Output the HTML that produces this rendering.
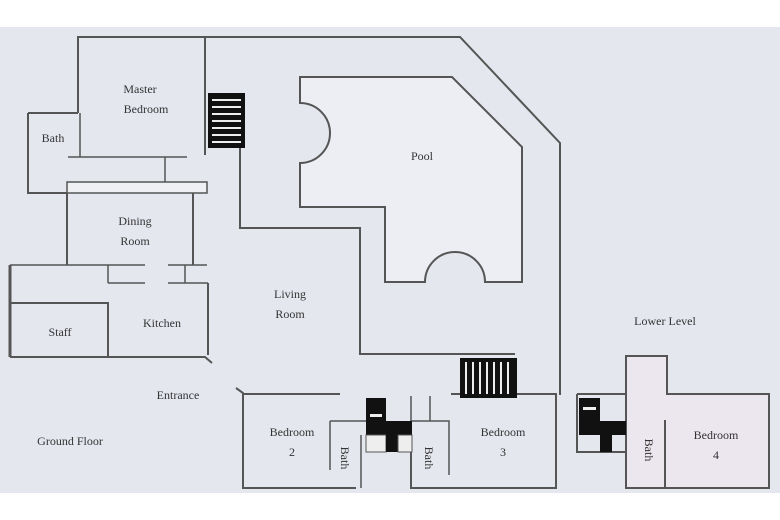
<!DOCTYPE html>
<html><head><meta charset="utf-8"><style>
html,body{margin:0;padding:0;background:#fff}
svg{display:block}
text{font-family:"Liberation Serif",serif;fill:#333;font-size:12px}
</style></head><body>
<svg width="780" height="520" viewBox="0 0 780 520" xmlns="http://www.w3.org/2000/svg">
<rect x="0" y="0" width="780" height="520" fill="#fff"/>
<rect x="0" y="27" width="780" height="466" fill="#e5e7ef"/>
<!-- pool -->
<path d="M300,77 H452 L522,147 V282 H485 A30,30 0 0 0 425,282 H385 V207 H300 V163 A30,30 0 0 0 300,103 Z" fill="#eceef3" stroke="#555" stroke-width="2"/>
<g fill="none" stroke="#555" stroke-width="2">
<!-- outer -->
<path d="M78,113 V37 H460 L560,143 V395"/>
<path d="M205,37 V155"/>
<path d="M28,113 H78 M28,113 V193 H67"/>
<path d="M80,113 V157 M68,157 H187 M165,157 V182" stroke-width="1.5"/>
<rect x="67" y="182" width="140" height="11" fill="#eef0f4" stroke-width="1.5"/>
<path d="M67,193 V265 M193,193 V265"/>
<path d="M240,148 V228 H360 V354 H515"/>
<!-- kitchen -->
<path d="M10,265 H145 M168,265 H207 M108,283 H145 M168,283 H208 M108,265 V283 M185,265 V283" stroke-width="1.5"/>
<path d="M10,265 V357" stroke-width="3"/>
<path d="M208,283 V355 M10,357 H205 L212,363 M10,303 H108 V357"/>
<!-- bedroom 2 -->
<path d="M236,388 L243,393 V488 H356 M243,394 H340"/>
<path d="M330,421 V470 M330,421 H366 M361,435 V488" stroke-width="1.5"/>
<!-- bedroom 3 -->
<path d="M411,452 V488 H556 V394 H451"/>
<path d="M411,396 V421 H449 V475 M430,396 V421" stroke-width="1.5"/>
<!-- bedroom 4 -->
<path d="M626,394 V356 H667 V394 H769 V488 H626 V452 M577,394 H626 M577,394 V452 H626 M665,420 V488"/>
</g>
<rect x="627" y="395" width="141" height="92" fill="#ece6ee"/>
<rect x="627" y="357" width="39" height="38" fill="#ece6ee"/>
<path d="M626,394 V356 H667 V394 H769 V488 H626 Z M665,420 V488" fill="none" stroke="#555" stroke-width="2"/>
<!-- stairs top -->
<rect x="208" y="93" width="37" height="55" fill="#111"/>
<g stroke="#eee" stroke-width="2"><path d="M212,100 H241 M212,107 H241 M212,114 H241 M212,121 H241 M212,128 H241 M212,135 H241 M212,142 H241"/></g>
<!-- stairs bottom -->
<rect x="460" y="358" width="57" height="40" fill="#111"/>
<g stroke="#eee" stroke-width="2"><path d="M466,362 V394 M473,362 V394 M480,362 V394 M487,362 V394 M494,362 V394 M501,362 V394 M508,362 V394"/></g>
<!-- black blocks bedroom2/3 -->
<rect x="366" y="398" width="20" height="37" fill="#111"/>
<rect x="370" y="414" width="12" height="3" fill="#eee"/>
<rect x="366" y="435" width="20" height="17" fill="#eee" stroke="#555"/>
<rect x="386" y="421" width="12" height="31" fill="#111"/>
<rect x="398" y="421" width="14" height="14" fill="#111"/>
<rect x="398" y="435" width="14" height="17" fill="#eee" stroke="#555"/>
<!-- black blocks bedroom4 -->
<rect x="579" y="398" width="21" height="37" fill="#111"/>
<rect x="583" y="407" width="13" height="3" fill="#eee"/>
<rect x="600" y="421" width="12" height="31" fill="#111"/>
<rect x="612" y="421" width="14" height="14" fill="#111"/>
<!-- labels -->
<text x="140" y="93" text-anchor="middle">Master</text>
<text x="146" y="113" text-anchor="middle">Bedroom</text>
<text x="53" y="142" text-anchor="middle" font-size="11">Bath</text>
<text x="135" y="225" text-anchor="middle">Dining</text>
<text x="135" y="245" text-anchor="middle">Room</text>
<text x="290" y="298" text-anchor="middle">Living</text>
<text x="290" y="318" text-anchor="middle">Room</text>
<text x="422" y="160" text-anchor="middle" font-size="11">Pool</text>
<text x="60" y="336" text-anchor="middle" font-size="11">Staff</text>
<text x="162" y="327" text-anchor="middle">Kitchen</text>
<text x="178" y="399" text-anchor="middle">Entrance</text>
<text x="70" y="445" text-anchor="middle">Ground Floor</text>
<text x="665" y="325" text-anchor="middle">Lower Level</text>
<text x="292" y="436" text-anchor="middle">Bedroom</text>
<text x="292" y="456" text-anchor="middle">2</text>
<text x="503" y="436" text-anchor="middle">Bedroom</text>
<text x="503" y="456" text-anchor="middle">3</text>
<text x="716" y="439" text-anchor="middle">Bedroom</text>
<text x="716" y="459" text-anchor="middle">4</text>
<text transform="translate(341,458) rotate(90)" text-anchor="middle" font-size="11">Bath</text>
<text transform="translate(425,458) rotate(90)" text-anchor="middle" font-size="11">Bath</text>
<text transform="translate(645,450) rotate(90)" text-anchor="middle" font-size="11">Bath</text>
</svg>
</body></html>
